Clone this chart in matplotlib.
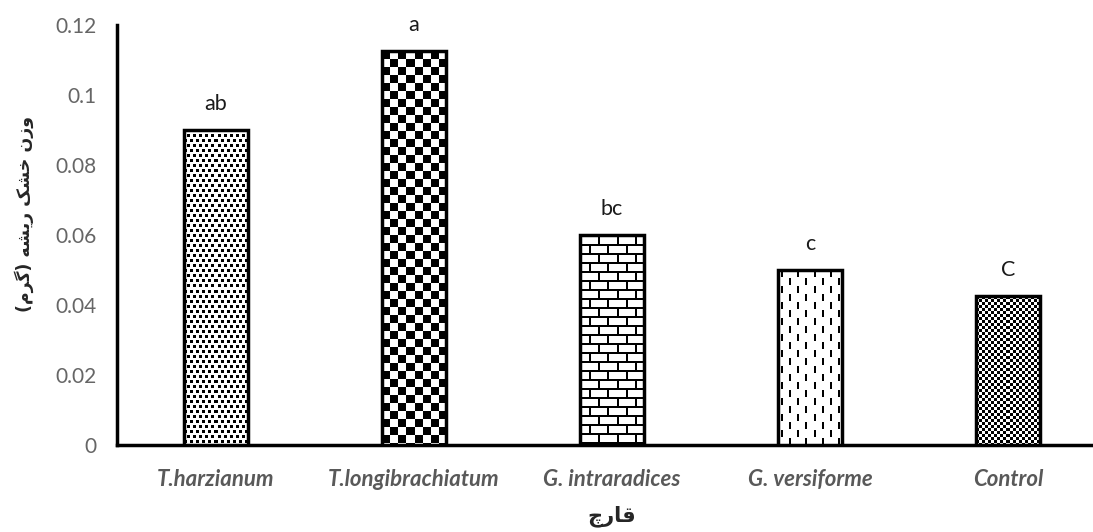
import numpy as np
import matplotlib
matplotlib.use('Agg')
import matplotlib.pyplot as plt

# Data
fungi = ['T.harzianum', 'T.longibrachiatum', 'G. intraradices', 'G. versiforme', 'Control']
root_dry_weight = [0.090, 0.1125, 0.060, 0.050, 0.0425]
letters = ['ab', 'a', 'bc', 'c', 'C']
y_ticks = [0, 0.02, 0.04, 0.06, 0.08, 0.1, 0.12]
y_tick_labels = ['0', '0.02', '0.04', '0.06', '0.08', '0.1', '0.12']

# Persian labels written in visual order with presentation forms
# (matplotlib does not shape Arabic script by itself)
ylabel_fa = '(\ufee1\ufeae\ufb94) \ufeea\ufeb8\ufbfe\ufead \ufb8f\ufeb8\ufea7 \ufee5\ufeaf\ufeed'
xlabel_fa = '\ufb7a\ufead\ufe8e\ufed7'

plt.rcParams['font.family'] = ['Lato', 'DejaVu Sans']


# Fill patterns like the Excel ones (True = black pixel)
def pat_dots(h, w):
    yy, xx = np.mgrid[0:h, 0:w]
    row = yy // 5
    return ((yy % 5) < 3) & (((xx + (row % 2) * 3) % 6) < 3)

def pat_big_checker(h, w):
    yy, xx = np.mgrid[0:h, 0:w]
    return ((yy // 8 + xx // 8) % 2) == 0

def pat_brick(h, w):
    yy, xx = np.mgrid[0:h, 0:w]
    row = yy // 9
    return ((yy % 9) < 2) | (((xx + (row % 2) * 9) % 18) < 2)

def pat_dashes(h, w):
    yy, xx = np.mgrid[0:h, 0:w]
    col = xx // 8
    return ((xx % 8) >= 3) & ((xx % 8) < 5) & (((yy + (col % 2) * 8) % 16) < 7)

def pat_small_checker(h, w):
    yy, xx = np.mgrid[0:h, 0:w]
    return ((yy // 3 + xx // 3) % 2) == 0

patterns = [pat_dots, pat_big_checker, pat_brick, pat_dashes, pat_small_checker]

fig = plt.figure(figsize=(10.93, 5.32), dpi=100)
ax = fig.add_axes([117 / 1093, 87 / 532, 1 - 117 / 1093, 420 / 532])

x = np.arange(len(fungi))
bar_w = 0.32
bars = ax.bar(x, root_dry_weight, width=bar_w, facecolor='none',
              edgecolor='black', linewidth=2.5, zorder=4)
ax.set_xlim(-0.5, 4.43)
ax.set_ylim(0, 0.12)

fig.canvas.draw()
for bar, pat, xi, v in zip(bars, patterns, x, root_dry_weight):
    bb = bar.get_window_extent()
    h, w = int(round(bb.height)), int(round(bb.width))
    img = np.where(pat(h, w), 0.0, 1.0)
    im = ax.imshow(img, cmap='gray', vmin=0, vmax=1, aspect='auto',
                   interpolation='nearest',
                   extent=(xi - bar_w / 2, xi + bar_w / 2, 0, v), zorder=3)
    im.set_clip_path(bar)

ax.set_xlim(-0.5, 4.43)
ax.set_ylim(0, 0.12)

for xi, v, t in zip(x, root_dry_weight, letters):
    ax.text(xi, v + 0.0045, t, ha='center', va='bottom', fontsize=15.5, color='#1a1a1a')

ax.spines['top'].set_visible(False)
ax.spines['right'].set_visible(False)
ax.spines['left'].set_linewidth(2.5)
ax.spines['bottom'].set_linewidth(2.5)

ax.set_yticks(y_ticks)
ax.set_yticklabels(y_tick_labels, fontsize=15, color='#666666')
ax.set_xticks(x)
ax.set_xticklabels(fungi, fontsize=16, color='#595959', fontweight='bold', fontstyle='italic')
ax.tick_params(axis='both', length=0)
ax.tick_params(axis='y', pad=15)
ax.tick_params(axis='x', pad=17)

ax.set_ylabel(ylabel_fa, family=['DejaVu Sans'], fontsize=12.5, fontweight='bold', color='#262626')
ax.yaxis.set_label_coords(-0.085, 0.55)
fig.text(0.56, 0.03, xlabel_fa, family=['DejaVu Sans'], fontsize=15,
         fontweight='bold', color='#262626', ha='center', va='center')

fig.savefig('out.png', dpi=100)
